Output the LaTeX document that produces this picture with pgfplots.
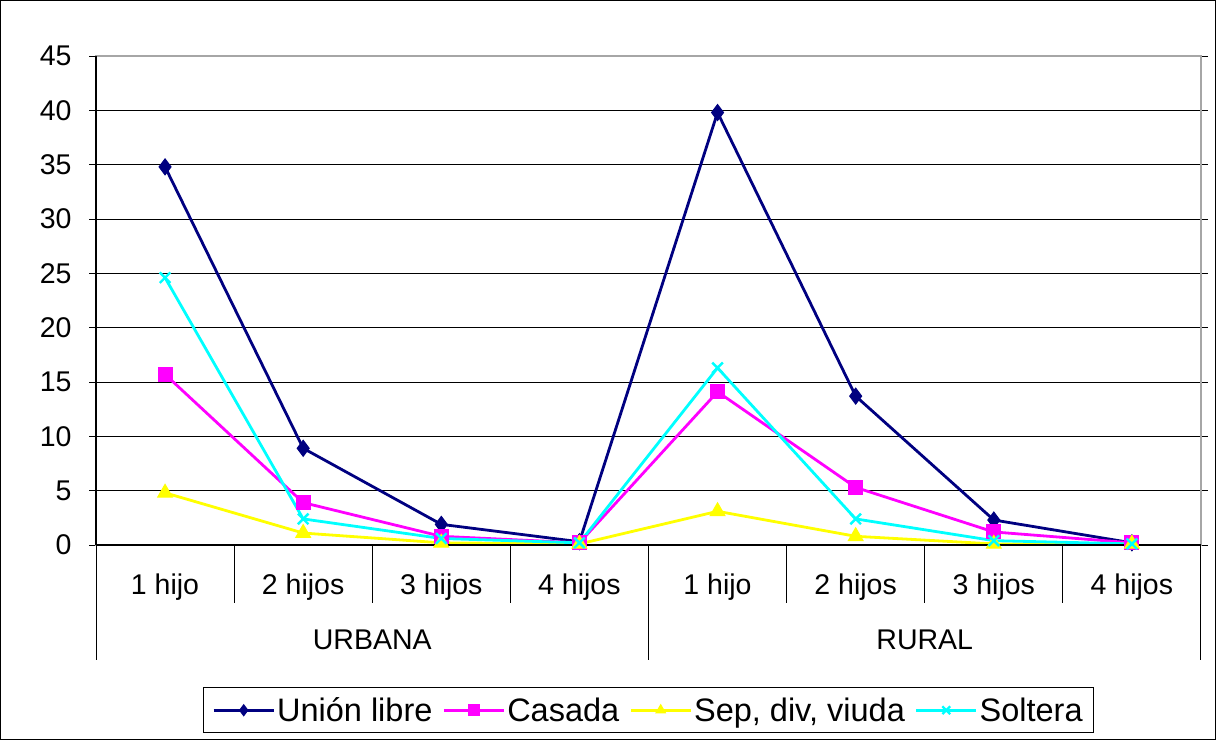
\documentclass[border=0pt]{standalone}
\usepackage{fontspec}
\setmainfont{Liberation Sans}
\usepackage{pgfplots}
\usepackage{pgfplotstable}
\pgfplotsset{compat=1.18}
\definecolor{cunion}{RGB}{0,0,128}
\definecolor{ccasada}{RGB}{255,0,255}
\definecolor{csep}{RGB}{255,255,0}
\definecolor{csolt}{RGB}{0,255,255}
\pgfplotstableread{
x union casada sep soltera
0 34.8 15.7 4.8 24.6
1 8.9 3.9 1.1 2.4
2 1.9 0.8 0.2 0.6
3 0.3 0.2 0.1 0.2
4 39.8 14.1 3.1 16.3
5 13.7 5.3 0.8 2.4
6 2.3 1.2 0.1 0.4
7 0.2 0.2 0.1 0.1
}\data
\begin{document}
\begin{tikzpicture}[x=1pt,y=1pt]
\draw[black, line width=1pt] (0.5,0.5) rectangle (1215.5,739.5);
\begin{axis}[
  at={(96pt,195pt)}, anchor=south west,
  width=1105pt, height=489pt, scale only axis,
  xmin=-0.5, xmax=7.5, ymin=0, ymax=45,
  ytick={0,5,...,45},
  xtick={0,...,7},
  xticklabels={1 hijo,2 hijos,3 hijos,4 hijos,1 hijo,2 hijos,3 hijos,4 hijos},
  xticklabel style={anchor=center, yshift=-35pt},
  x tick style={draw=none},
  y tick style={black, line width=1pt},
  tick align=outside, major tick length=7pt,
  yticklabel style={xshift=-14pt},
  ymajorgrids, grid style={black, line width=1pt},
  axis line style={draw=gray!70, line width=2pt},
  tick label style={font=\fontsize{28.5}{33}\selectfont},
  /pgf/number format/assume math mode=true,
  clip=false,
  legend style={at={(0.5,-0.2904)}, anchor=north, legend columns=4,
    draw=black, line width=1pt, font=\fontsize{32.5}{38}\selectfont,
    inner xsep=9pt, inner ysep=8pt,
    /tikz/every even column/.append style={column sep=8pt}},
  legend image code/.code={\draw[mark repeat=2,mark phase=2,mark size=5.5pt] plot coordinates {(0pt,0pt) (30pt,0pt) (60pt,0pt)};},
]
\addplot[cunion, line width=2.8pt, mark=diamond*, mark size=8pt, mark options={solid, line width=1pt}] table[x=x,y=union]{\data};
\addlegendentry{Unión libre}
\addplot[ccasada, line width=2.8pt, mark=square*, mark size=7pt, mark options={solid, line width=1pt}] table[x=x,y=casada]{\data};
\addlegendentry{Casada}
\addplot[csep, line width=2.8pt, mark=triangle*, mark size=8.5pt, mark options={solid, line width=1pt}] table[x=x,y=sep]{\data};
\addlegendentry{Sep, div, viuda}
\addplot[csolt, line width=2.8pt, mark=x, mark size=7.5pt, mark options={solid, line width=2.4pt}] table[x=x,y=soltera]{\data};
\addlegendentry{Soltera}
\draw[black, line width=1.5pt] (rel axis cs:0,0) -- (rel axis cs:0,1);
\draw[black, line width=2pt] (rel axis cs:0,0) -- (rel axis cs:1,0);
\pgfplotsinvokeforeach{0.5,1.5,2.5,4.5,5.5,6.5}{
  \draw[black, line width=1pt] (axis cs:#1,0) -- ++(0pt,-58pt);
}
\pgfplotsinvokeforeach{-0.5,3.5,7.5}{
  \draw[black, line width=1pt] (axis cs:#1,0) -- ++(0pt,-115pt);
}
\node[font=\fontsize{28.5}{33}\selectfont] at ([yshift=-95pt]axis cs:1.5,0) {URBANA};
\node[font=\fontsize{28.5}{33}\selectfont] at ([yshift=-95pt]axis cs:5.5,0) {RURAL};
\end{axis}
\end{tikzpicture}
\end{document}
